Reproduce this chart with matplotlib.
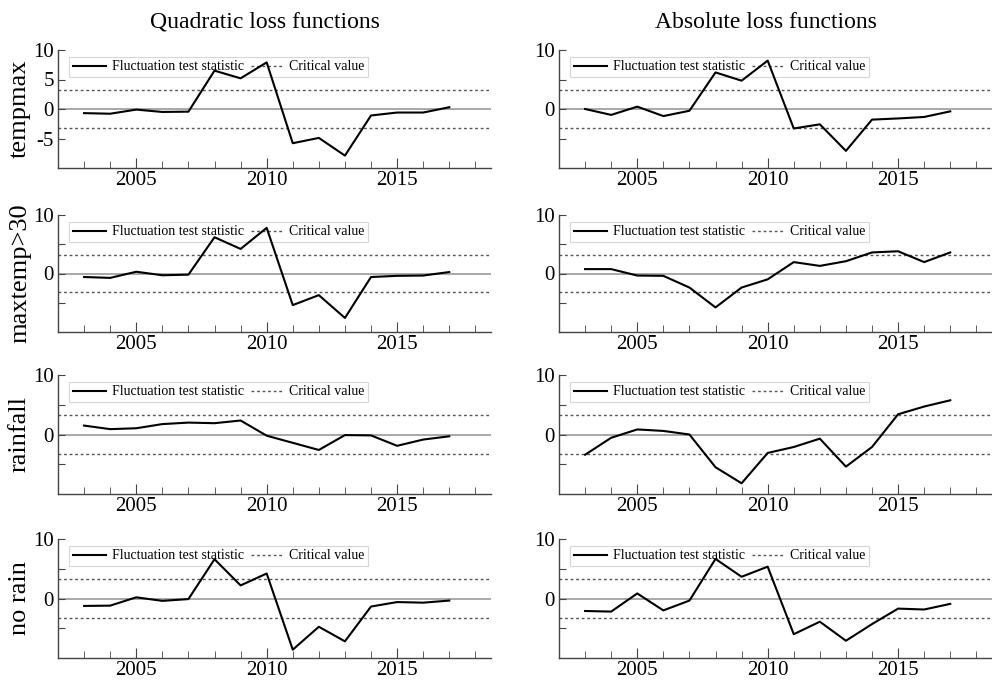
import numpy as np
import matplotlib
matplotlib.use("Agg")
from matplotlib import pyplot as plt

plt.rcParams['font.family'] = ['Liberation Serif', 'DejaVu Serif']

years = list(range(2003, 2018))
crit = 3.2

# quadratic loss
quad_tempmax = [-0.7, -0.8, -0.1, -0.5, -0.45, 6.5, 5.2, 7.9, -5.8, -4.9, -7.9, -1.1, -0.6, -0.6, 0.3]
quad_maxtemp30 = [-0.6, -0.75, 0.3, -0.3, -0.2, 6.2, 4.2, 7.8, -5.4, -3.7, -7.6, -0.6, -0.4, -0.35, 0.25]
quad_rainfall = [1.5, 0.9, 1.05, 1.75, 2.0, 1.9, 2.35, -0.2, -1.4, -2.6, -0.1, -0.15, -1.9, -0.85, -0.3]
quad_norain = [-1.25, -1.2, 0.2, -0.4, -0.1, 6.6, 2.2, 4.2, -8.6, -4.75, -7.2, -1.35, -0.6, -0.7, -0.35]

# absolute loss
abs_tempmax = [0.0, -1.0, 0.4, -1.2, -0.3, 6.2, 4.8, 8.2, -3.3, -2.6, -7.1, -1.8, -1.6, -1.35, -0.4]
abs_maxtemp30 = [0.75, 0.75, -0.35, -0.4, -2.4, -5.8, -2.4, -1.0, 1.95, 1.3, 2.1, 3.6, 3.8, 1.95, 3.6]
abs_rainfall = [-3.4, -0.55, 0.85, 0.6, 0.0, -5.5, -8.2, -3.1, -2.1, -0.7, -5.4, -2.1, 3.4, 4.7, 5.75]
abs_norain = [-2.1, -2.2, 0.85, -2.0, -0.35, 6.65, 3.65, 5.35, -6.0, -3.9, -7.1, -4.3, -1.7, -1.85, -0.9]

row_names = ['tempmax', 'maxtemp>30', 'rainfall', 'no rain']
quad = [quad_tempmax, quad_maxtemp30, quad_rainfall, quad_norain]
absl = [abs_tempmax, abs_maxtemp30, abs_rainfall, abs_norain]
col_titles = ['Quadratic loss functions', 'Absolute loss functions']

W, H = 992, 680
fig = plt.figure(figsize=(W / 100, H / 100), dpi=100)

rows_px = [(50, 168), (215, 332), (375, 494), (539, 658)]
cols_px = [(58, 491), (559, 992)]


def panel(ax, vals, first):
    ax.axhline(0, color='#9a9a9a', lw=1.2, zorder=1)
    ax.axhline(crit, color='#555555', lw=1, ls=(0, (2, 2)), zorder=1)
    ax.axhline(-crit, color='#555555', lw=1, ls=(0, (2, 2)), zorder=1)
    ax.plot(years, vals, color='black', lw=1.5, label='Fluctuation test statistic', zorder=3)
    ax.plot([], [], color='#555555', lw=1, ls=(0, (2, 2)), label='Critical value')
    ax.set_xlim(2002, 2018.6)
    ax.set_ylim(-10, 10)
    for s in ['top', 'right']:
        ax.spines[s].set_visible(False)
    for s in ['left', 'bottom']:
        ax.spines[s].set_color('#444444')
        ax.spines[s].set_linewidth(1)
    ax.set_xticks([2005, 2010, 2015])
    ax.set_xticks(range(2003, 2019), minor=True)
    ax.tick_params(axis='x', which='major', direction='in', length=7, labelsize=15,
                   pad=2, color='#444444')
    ax.tick_params(axis='x', which='minor', direction='in', length=5, color='#444444')
    ax.set_yticks([10, 5, 0, -5])
    if first:
        ax.set_yticklabels(['10', '5', '0', '-5'])
    else:
        ax.set_yticklabels(['10', '', '0', ''])
    ax.tick_params(axis='y', direction='in', length=5, labelsize=15, pad=3, color='#444444')
    leg = ax.legend(loc='upper left', ncol=2, fontsize=10, frameon=True, fancybox=False,
                    handlelength=2.4, columnspacing=0.5, handletextpad=0.4,
                    borderpad=0.25, bbox_to_anchor=(0.01, 1.0))
    leg.get_frame().set_edgecolor('#cccccc')
    leg.get_frame().set_linewidth(0.8)
    leg.set_zorder(2)
    ax.patch.set_alpha(0)


for r, (top, bot) in enumerate(rows_px):
    for c, (lft, rgt) in enumerate(cols_px):
        ax = fig.add_axes([lft / W, 1 - bot / H, (rgt - lft) / W, (bot - top) / H])
        vals = quad[r] if c == 0 else absl[r]
        panel(ax, vals, first=(r == 0 and c == 0))
        if c == 0:
            fig.text(20 / W, 1 - ((top + bot) / 2) / H, row_names[r], rotation=90,
                     ha='center', va='center', fontsize=19)
        if r == 0:
            fig.text(((lft + rgt) / 2 - 10) / W, 1 - 22 / H, col_titles[c],
                     ha='center', va='center', fontsize=17)

fig.savefig('out.png', dpi=100)
